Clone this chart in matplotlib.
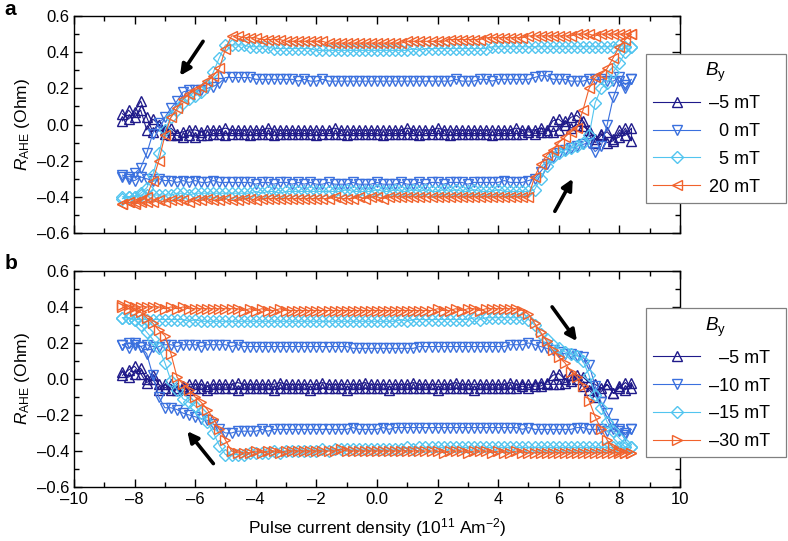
import numpy as np
import matplotlib
matplotlib.use("Agg")
import matplotlib.pyplot as plt
from matplotlib.ticker import MultipleLocator, FuncFormatter

plt.rcParams['font.family'] = ['Liberation Sans', 'DejaVu Sans']
plt.rcParams['mathtext.fontset'] = 'custom'
plt.rcParams['mathtext.rm'] = 'Liberation Sans'
plt.rcParams['mathtext.it'] = 'Liberation Sans:italic'

# pulse current density sweep (10^11 A/m^2)
current = [-8.4, -8.2, -8.0, -7.8, -7.6, -7.4, -7.2, -7.0, -6.8, -6.6,
           -6.4, -6.2, -6.0, -5.8, -5.6, -5.4, -5.2, -5.0, -4.8, -4.6,
           -4.4, -4.2, -4.0, -3.8, -3.6, -3.4, -3.2, -3.0, -2.8, -2.6,
           -2.4, -2.2, -2.0, -1.8, -1.6, -1.4, -1.2, -1.0, -0.8, -0.6,
           -0.4, -0.2, 0.0, 0.2, 0.4, 0.6, 0.8, 1.0, 1.2, 1.4,
           1.6, 1.8, 2.0, 2.2, 2.4, 2.6, 2.8, 3.0, 3.2, 3.4,
           3.6, 3.8, 4.0, 4.2, 4.4, 4.6, 4.8, 5.0, 5.2, 5.4,
           5.6, 5.8, 6.0, 6.2, 6.4, 6.6, 6.8, 7.0, 7.2, 7.4,
           7.6, 7.8, 8.0, 8.2, 8.4]

# R_AHE in units of 0.01 Ohm, listed from -8.4 to 8.4
# "up" = sweep towards positive current, "dn" = sweep back towards negative

# ---- panel a ----
a_m5_up = [6, 3, 7, 13, 4, -4, 0, -3, -6, -6,
           -7, -6, -7, -6, -6, -5, -5, -6, -5, -5,
           -5, -6, -5, -5, -5, -6, -5, -5, -5, -5,
           -5, -5, -6, -5, -5, -5, -5, -6, -5, -5,
           -5, -5, -5, -6, -5, -5, -5, -5, -5, -6,
           -5, -5, -5, -5, -6, -5, -5, -5, -5, -5,
           -5, -6, -5, -5, -5, -5, -5, -4, -5, -4,
           -4, 2, 3, 0, 4, 5, 2, -6, -10, -6,
           -4, -8, -7, -2, -9]
a_m5_dn = [2, 8, 4, 8, -3, 3, 0, -5, -2, -5,
           -4, -3, -3, -4, -3, -3, -3, -2, -3, -3,
           -3, -3, -3, -3, -2, -3, -3, -3, -3, -3,
           -3, -3, -3, -3, -3, -2, -3, -3, -3, -3,
           -3, -3, -3, -3, -3, -3, -3, -2, -3, -3,
           -3, -3, -2, -3, -3, -3, -3, -3, -3, -3,
           -3, -3, -3, -3, -3, -2, -3, -3, -3, -2,
           -3, -4, -3, 2, -2, 0, -1, -3, -8, -5,
           -10, -9, -3, -6, -2]
a_0_up = [-29, -30, -31, -29, -30, -31, -30, -31, -31, -32,
          -31, -32, -31, -32, -32, -31, -32, -32, -32, -32,
          -32, -32, -33, -32, -32, -33, -32, -32, -33, -32,
          -33, -32, -33, -33, -32, -33, -33, -33, -32, -33,
          -33, -33, -32, -33, -33, -33, -32, -33, -33, -32,
          -33, -32, -32, -33, -32, -32, -32, -33, -32, -32,
          -32, -32, -32, -31, -32, -32, -32, -31, -30, -26,
          -22, -18, -16, -14, -13, -12, -11, -10, -15, -12,
          0, 15, 24, 20, 25]
a_0_dn = [-28, -29, -27, -24, -16, -5, 1, 4, 9, 13,
          18, 19, 19, 19, 20, 21, 23, 26, 26, 26,
          26, 26, 25, 25, 25, 25, 25, 25, 25, 24,
          25, 24, 24, 25, 24, 24, 24, 24, 24, 24,
          24, 24, 24, 24, 24, 24, 24, 24, 24, 24,
          24, 24, 24, 24, 24, 25, 24, 24, 24, 25,
          25, 24, 25, 25, 25, 25, 25, 25, 26, 27,
          27, 25, 25, 25, 24, 24, 24, 25, 25, 25,
          24, 24, 26, 22, 25]
a_5_up = [-40, -40, -40, -39, -39, -39, -39, -39, -39, -38,
          -38, -39, -38, -38, -38, -38, -38, -38, -38, -38,
          -38, -38, -37, -38, -37, -37, -38, -37, -37, -37,
          -37, -37, -37, -37, -37, -37, -37, -36, -37, -37,
          -37, -37, -36, -37, -37, -36, -37, -37, -36, -37,
          -36, -37, -37, -36, -37, -36, -37, -37, -36, -37,
          -37, -37, -36, -37, -37, -37, -37, -37, -36, -30,
          -23, -18, -16, -14, -13, -12, -10, -6, 12, 20,
          23, 29, 34, 40, 43]
a_5_dn = [-41, -40, -40, -38, -35, -28, -16, -3, 4, 8,
          12, 14, 16, 18, 22, 29, 37, 44, 44, 44,
          44, 43, 43, 43, 43, 42, 42, 42, 42, 42,
          42, 42, 41, 41, 41, 41, 41, 41, 41, 41,
          41, 41, 41, 41, 41, 41, 41, 41, 42, 41,
          42, 42, 42, 42, 42, 42, 42, 42, 42, 42,
          42, 43, 43, 43, 43, 43, 43, 43, 43, 43,
          43, 43, 43, 43, 43, 43, 43, 43, 43, 43,
          43, 43, 44, 43, 43]
a_20_up = [-44, -43, -44, -43, -43, -43, -42, -43, -42, -42,
           -42, -43, -42, -42, -41, -42, -42, -41, -42, -42,
           -41, -41, -42, -41, -41, -41, -41, -41, -41, -41,
           -41, -41, -41, -41, -41, -40, -41, -41, -41, -40,
           -41, -40, -40, -41, -40, -40, -40, -40, -40, -40,
           -40, -40, -40, -40, -40, -40, -40, -40, -40, -40,
           -40, -40, -40, -40, -40, -40, -40, -40, -29, -22,
           -17, -14, -10, -7, -4, -2, 8, 20, 26, 28,
           31, 37, 43, 47, 50]
a_20_dn = [-44, -43, -43, -42, -40, -31, -20, -6, 4, 9,
           14, 17, 19, 21, 24, 27, 31, 42, 49, 49,
           48, 48, 48, 47, 47, 47, 47, 46, 46, 46,
           46, 46, 46, 46, 45, 45, 45, 45, 45, 45,
           45, 45, 45, 45, 45, 45, 45, 46, 46, 46,
           46, 46, 46, 46, 47, 47, 47, 47, 47, 47,
           48, 48, 48, 48, 48, 48, 48, 49, 49, 49,
           49, 49, 49, 49, 49, 50, 50, 50, 49, 50,
           50, 50, 50, 50, 50]

# ---- panel b ----
b_m5_up = [2, 5, 7, 3, -2, 0, -6, -3, -6, -5,
           -5, -6, -5, -5, -6, -5, -5, -5, -5, -6,
           -5, -5, -5, -5, -5, -6, -5, -5, -5, -5,
           -5, -6, -5, -5, -5, -5, -5, -6, -5, -5,
           -5, -5, -5, -5, -6, -5, -5, -5, -5, -5,
           -5, -5, -6, -5, -5, -5, -5, -5, -6, -5,
           -5, -5, -5, -5, -5, -5, -4, -5, -4, -4,
           -2, 2, 3, 0, 2, 0, -4, -6, -10, -7,
           -3, -8, -5, -2, -5]
b_m5_dn = [4, 1, 3, 6, 0, 2, -3, -5, -3, -6,
           -4, -3, -3, -3, -4, -3, -3, -3, -3, -2,
           -3, -3, -3, -3, -3, -3, -2, -3, -3, -3,
           -3, -3, -3, -2, -3, -3, -3, -3, -3, -3,
           -2, -3, -3, -3, -3, -3, -3, -3, -2, -3,
           -3, -3, -3, -3, -3, -2, -3, -3, -3, -3,
           -3, -3, -3, -3, -2, -3, -3, -3, -3, -2,
           -3, -3, -3, -2, -1, 2, 1, -2, -3, -5,
           -3, -8, -4, -6, -2]
b_m10_up = [19, 17, 19, 18, 19, 18, 18, 19, 19, 18,
            19, 19, 19, 18, 19, 19, 19, 19, 18, 19,
            18, 18, 18, 18, 18, 18, 18, 18, 18, 18,
            18, 18, 18, 18, 18, 18, 18, 18, 17, 17,
            17, 17, 17, 17, 17, 17, 17, 17, 17, 18,
            18, 18, 18, 18, 18, 18, 18, 18, 18, 18,
            18, 18, 18, 18, 19, 19, 19, 20, 19, 18,
            17, 16, 15, 14, 14, 13, 12, 8, -4, -13,
            -19, -25, -28, -31, -28]
b_m10_dn = [19, 20, 20, 18, 14, 2, -10, -16, -16, -17,
            -19, -20, -21, -22, -23, -25, -28, -30, -30, -29,
            -29, -29, -29, -28, -29, -28, -28, -28, -28, -28,
            -28, -28, -28, -28, -28, -28, -28, -28, -27, -28,
            -28, -28, -28, -27, -28, -27, -27, -27, -27, -27,
            -27, -27, -27, -27, -27, -27, -27, -27, -27, -27,
            -27, -27, -27, -27, -27, -27, -28, -27, -28, -28,
            -28, -28, -28, -28, -28, -27, -27, -28, -28, -28,
            -29, -28, -29, -30, -28]
b_m15_up = [34, 34, 33, 33, 33, 33, 33, 33, 33, 33,
            33, 32, 33, 32, 32, 32, 32, 32, 32, 32,
            32, 32, 32, 32, 32, 32, 32, 32, 32, 32,
            32, 32, 32, 32, 32, 32, 32, 32, 32, 32,
            32, 32, 32, 32, 32, 32, 33, 32, 33, 33,
            33, 33, 33, 33, 33, 33, 33, 33, 34, 33,
            34, 34, 34, 34, 34, 34, 34, 33, 30, 25,
            22, 19, 17, 15, 14, 13, 10, 2, -9, -16,
            -24, -29, -33, -36, -38]
b_m15_dn = [34, 34, 33, 30, 26, 22, 17, 9, -1, -6,
            -11, -13, -15, -19, -24, -30, -37, -42, -42, -42,
            -42, -41, -41, -41, -41, -40, -41, -40, -40, -40,
            -40, -40, -40, -39, -40, -39, -39, -39, -39, -39,
            -39, -39, -39, -39, -39, -39, -39, -38, -39, -38,
            -38, -38, -38, -38, -38, -38, -38, -38, -38, -38,
            -38, -38, -38, -38, -38, -38, -38, -38, -38, -38,
            -38, -38, -38, -38, -38, -38, -38, -38, -38, -38,
            -38, -38, -38, -38, -38]
b_m30_up = [41, 41, 40, 40, 40, 40, 40, 39, 40, 39,
            40, 39, 39, 39, 39, 39, 39, 39, 39, 39,
            38, 39, 38, 39, 38, 38, 39, 38, 38, 38,
            38, 38, 38, 38, 38, 38, 38, 38, 38, 38,
            38, 38, 38, 38, 38, 38, 38, 38, 38, 38,
            38, 38, 39, 38, 38, 39, 38, 39, 39, 38,
            39, 39, 39, 39, 39, 39, 38, 36, 31, 26,
            21, 16, 12, 9, 4, 1, -4, -12, -21, -28,
            -34, -38, -40, -41, -41]
b_m30_dn = [40, 39, 38, 37, 34, 31, 27, 24, 14, 1,
            -3, -6, -10, -13, -17, -22, -28, -34, -40, -41,
            -41, -41, -40, -41, -40, -40, -41, -40, -40, -40,
            -40, -40, -40, -40, -40, -40, -39, -40, -40, -40,
            -40, -40, -40, -40, -40, -40, -40, -40, -40, -40,
            -40, -40, -40, -41, -40, -40, -40, -41, -40, -40,
            -40, -41, -40, -41, -41, -40, -41, -41, -41, -41,
            -41, -41, -41, -41, -41, -41, -41, -41, -41, -41,
            -41, -41, -41, -41, -41]

labels_a = ['\u20135 mT', '\u20070 mT', '\u20075 mT', '20 mT']
labels_b = ['\u2007\u20135 mT', '\u201310 mT', '\u201315 mT', '\u201330 mT']

colors = ['#1f1a8a', '#3a70de', '#52c5ef', '#f1622c']
markers_a = ['^', 'v', 'D', '<']
markers_b = ['^', 'v', 'D', '>']


def loop(up, dn):
    x = np.array(current)
    xs = np.concatenate([x, x[::-1]])
    ys = np.concatenate([np.array(up), np.array(dn)[::-1]]) / 100.0
    return xs, ys


def dash(v, pos):
    s = '%g' % v if abs(v) >= 1 else '%.1f' % v
    return s.replace('-', '\u2013')


fig = plt.figure(figsize=(7.88, 5.41), dpi=100)
ax_a = fig.add_axes([0.0939, 0.5693, 0.769, 0.4011])
ax_b = fig.add_axes([0.0939, 0.0998, 0.769, 0.3995])

panels = [
    (ax_a, [(a_m5_up, a_m5_dn), (a_0_up, a_0_dn), (a_5_up, a_5_dn), (a_20_up, a_20_dn)],
     labels_a, markers_a),
    (ax_b, [(b_m5_up, b_m5_dn), (b_m10_up, b_m10_dn), (b_m15_up, b_m15_dn), (b_m30_up, b_m30_dn)],
     labels_b, markers_b),
]

for ax, series, labels, markers in panels:
    handles = []
    for (up, dn), lab, mk, c in zip(series, labels, markers, colors):
        xs, ys = loop(up, dn)
        ms = 6.2 if mk == 'D' else 7.8
        h, = ax.plot(xs, ys, color=c, lw=0.8, marker=mk, ms=ms, mfc='none',
                     mec=c, mew=1.0, label=lab)
        handles.append(h)
    ax.set_xlim(-10, 10)
    ax.set_ylim(-0.6, 0.6)
    ax.xaxis.set_major_locator(MultipleLocator(2))
    ax.xaxis.set_minor_locator(MultipleLocator(1))
    ax.yaxis.set_major_locator(MultipleLocator(0.2))
    ax.yaxis.set_minor_locator(MultipleLocator(0.1))
    ax.tick_params(which='both', direction='in', top=True, right=True, labelsize=12)
    ax.tick_params(which='major', length=6, width=1)
    ax.tick_params(which='minor', length=3.5, width=1)
    for sp in ax.spines.values():
        sp.set_linewidth(1.0)
    ax.yaxis.set_major_formatter(FuncFormatter(dash))
    ax.xaxis.set_major_formatter(FuncFormatter(dash))
    ax.set_ylabel('$R_{\\mathrm{AHE}}$ (Ohm)', fontsize=12.5, labelpad=3)
    leg = ax.legend(handles=handles, loc='upper left', mode='expand',
                    bbox_to_anchor=(0.944, 0.0, 0.2305, 0.826),
                    title='$B_{\\mathrm{y}}$', title_fontsize=13.5, fontsize=13,
                    frameon=True, fancybox=False, edgecolor='#808080', framealpha=1,
                    borderpad=0.4, labelspacing=0.6, handlelength=2.6,
                    handletextpad=0.5, borderaxespad=0)
    leg.get_frame().set_linewidth(0.9)

ax_a.tick_params(labelbottom=False)
ax_b.set_xlabel('Pulse current density (10$^{11}$ Am$^{-2}$)', fontsize=12.5, labelpad=7)

arrow = dict(arrowstyle='-|>', lw=2.6, color='k', mutation_scale=16, shrinkA=0, shrinkB=0)
ax_a.annotate('', xy=(-6.5, 0.27), xytext=(-5.74, 0.46), arrowprops=arrow)
ax_a.annotate('', xy=(6.46, -0.30), xytext=(5.87, -0.48), arrowprops=arrow)
ax_b.annotate('', xy=(6.6, 0.21), xytext=(5.78, 0.40), arrowprops=arrow)
ax_b.annotate('', xy=(-6.26, -0.29), xytext=(-5.4, -0.47), arrowprops=arrow)

fig.text(0.006, 0.983, 'a', fontsize=15, fontweight='bold', va='center')
fig.text(0.006, 0.513, 'b', fontsize=15, fontweight='bold', va='center')

fig.savefig('out.png', dpi=100)
